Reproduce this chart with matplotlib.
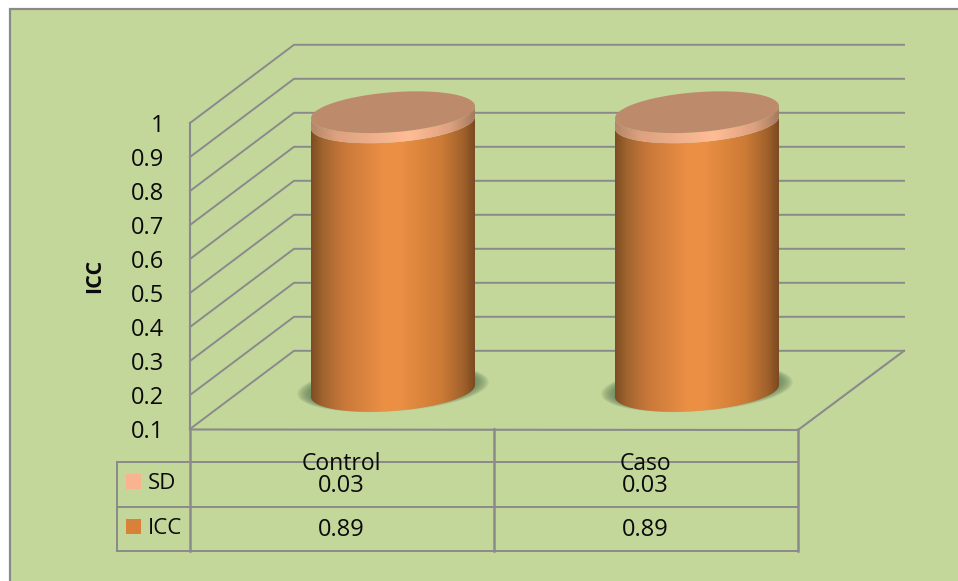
import numpy as np
import matplotlib
matplotlib.use("Agg")
import matplotlib.pyplot as plt
from matplotlib.patches import Rectangle, PathPatch
from matplotlib.path import Path

categories = ["Control", "Caso"]
sd_values = [0.03, 0.03]
icc_values = [0.89, 0.89]
value_ticks = [0.1, 0.2, 0.3, 0.4, 0.5, 0.6, 0.7, 0.8, 0.9, 1.0]
tick_labels = ["0.1", "0.2", "0.3", "0.4", "0.5", "0.6", "0.7", "0.8", "0.9", "1"]
series_names = ["SD", "ICC"]
series_colors = ["#FAB38F", "#DA8139"]

plt.rcParams["font.family"] = ["Open Sans", "DejaVu Sans"]

W, H = 958, 581
PANEL = "#C4D79B"
LINE = "#8A8A8A"
TEXT = "#0a0a0a"

# Oblique 3D frame in canvas units
FRONT_X, BACK_X, RIGHT_FRONT_X, RIGHT_BACK_X = 190, 294, 798, 904
FRONT_BASE, BACK_BASE = 429, 350.8
PER_UNIT = 340.0
COL_EDGES = [190, 494, 798]
ROW_EDGES = [462, 506.5, 550.5]
TABLE_LEFT = 117
DEPTH_SHIFT = 51.5
CYL_CENTER_BASE = 391.0
CYL_A, CYL_B, CYL_SKEW = 82.0, 20.0, -6.0


def front_y(v):
    return FRONT_BASE - (v - 0.1) * PER_UNIT


def back_y(v):
    return BACK_BASE - (v - 0.1) * PER_UNIT


def cyl_y(v):
    return CYL_CENTER_BASE - (v - 0.1) * PER_UNIT


def cell_center(i):
    return (COL_EDGES[i] + COL_EDGES[i + 1]) / 2 - 0.5


def ellipse_pts(cx, cy, t):
    return cx + CYL_A * np.cos(t), cy + CYL_B * np.sin(t) + CYL_SKEW * np.cos(t)


def band_path(cx, y_top, y_bot):
    """Outline of a cylinder slice: lower arc of the bottom, lower arc of the top."""
    t_low = np.linspace(0, np.pi, 80)
    x0, y0 = ellipse_pts(cx, y_bot, t_low)
    x1, y1 = ellipse_pts(cx, y_top, t_low[::-1])
    verts = np.r_[np.c_[x0, y0], np.c_[x1, y1]]
    return Path(np.r_[verts, verts[:1]], closed=True)


def shade(ax, path, stops, zorder):
    """Fill a path with a horizontal multi-stop gradient."""
    xs = np.linspace(0, 1, 256)
    pos, cols = zip(*stops)
    rgb = np.array([matplotlib.colors.to_rgb(c) for c in cols])
    row = np.stack([np.interp(xs, pos, rgb[:, i]) for i in range(3)], axis=-1)
    ext = path.get_extents()
    im = ax.imshow(row[None, :, :], extent=(ext.x0, ext.x1, ext.y1, ext.y0),
                   aspect="auto", zorder=zorder, interpolation="bilinear")
    patch = PathPatch(path, transform=ax.transData, fc="none", ec="none")
    ax.add_patch(patch)
    im.set_clip_path(patch)


fig = plt.figure(figsize=(W / 100, H / 100), dpi=100, facecolor="white")
ax = fig.add_axes([0, 0, 1, 1])
ax.set_xlim(0, W)
ax.set_ylim(H, 0)
ax.axis("off")

# Chart panel
ax.add_patch(Rectangle((10, 9), W, H, fc=PANEL, ec=LINE, lw=1.6, zorder=0))

# Walls and gridlines
for v in value_ticks:
    ax.plot([FRONT_X, BACK_X, RIGHT_BACK_X], [front_y(v), back_y(v), back_y(v)],
            color=LINE, lw=1.4, zorder=1, solid_joinstyle="miter")
ax.plot([FRONT_X, FRONT_X], [front_y(1.0), FRONT_BASE], color=LINE, lw=1.5, zorder=1)
ax.plot([FRONT_X, RIGHT_FRONT_X, RIGHT_BACK_X], [FRONT_BASE + 0.5, FRONT_BASE + 1, BACK_BASE],
        color=LINE, lw=1.5, zorder=1)

# Value axis labels
for v, lab in zip(value_ticks, tick_labels):
    ax.text(164.5, front_y(v) + 3.2, lab, ha="right", va="center", fontsize=17, color=TEXT, zorder=6)
ax.text(94.5, 276, "ICC", rotation=90, ha="center", va="center", fontsize=15.5,
        fontweight="bold", color=TEXT, zorder=6)

# Cylinders: a soft floor shadow, the ICC body, the SD cap
body_stops = [(0, "#7E4C22"), (0.07, "#9F642F"), (0.2, "#C9783A"), (0.45, "#EC9045"),
              (0.55, "#EA8F43"), (0.8, "#CC7A35"), (0.93, "#A0622B"), (1, "#7C4A22")]
cap_stops = [(0, "#B5866A"), (0.15, "#DDA180"), (0.6, "#FFBD95"), (0.85, "#DDA180"), (1, "#A67A5E")]
for i, (icc, sd) in enumerate(zip(icc_values, sd_values)):
    cx = cell_center(i) + DEPTH_SHIFT
    y_base, y_icc, y_sd = cyl_y(0.1), cyl_y(icc), cyl_y(icc + sd)

    # Shadow built from nested translucent ellipses
    t = np.linspace(0, 2 * np.pi, 120)
    for s in np.linspace(1.17, 0.98, 14):
        ax.fill(cx + CYL_A * s * np.cos(t), y_base - 3 + CYL_B * s * np.sin(t) + CYL_SKEW * np.cos(t),
                color="#5F7C55", alpha=0.10, lw=0, zorder=2)

    shade(ax, band_path(cx, y_icc, y_base), body_stops, 3)
    shade(ax, band_path(cx, y_sd, y_icc), cap_stops, 4)
    ex, ey = ellipse_pts(cx, y_sd, t)
    ax.fill(ex, ey, color="#BD8A6B", lw=0, zorder=5)

# Data table below the floor
for y in ROW_EDGES:
    ax.plot([TABLE_LEFT, COL_EDGES[-1]], [y, y], color=LINE, lw=1.4, zorder=1)
ax.plot([TABLE_LEFT] * 2, [ROW_EDGES[0], ROW_EDGES[-1]], color=LINE, lw=1.4, zorder=1)
for x in COL_EDGES:
    ax.plot([x, x], [FRONT_BASE, ROW_EDGES[-1]], color=LINE, lw=1.8, zorder=1)

rows = [sd_values, icc_values]
for r, (name, col, vals) in enumerate(zip(series_names, series_colors, rows)):
    yc = (ROW_EDGES[r] + ROW_EDGES[r + 1]) / 2
    ax.add_patch(Rectangle((126, yc - 10), 15, 15, fc=col, ec="none", zorder=6))
    ax.text(148, yc - 0.5, name, ha="left", va="center", fontsize=16, color=TEXT, zorder=6)
    for i, val in enumerate(vals):
        ax.text(cell_center(i), yc + 2, f"{val:.2f}", ha="center", va="center",
                fontsize=17, color=TEXT, zorder=6)
for i, cat in enumerate(categories):
    ax.text(cell_center(i), 464, cat, ha="center", va="center", fontsize=16.5, color=TEXT, zorder=6)

ax.set_xlim(0, W)
ax.set_ylim(H, 0)
fig.savefig("out.png", dpi=100)
